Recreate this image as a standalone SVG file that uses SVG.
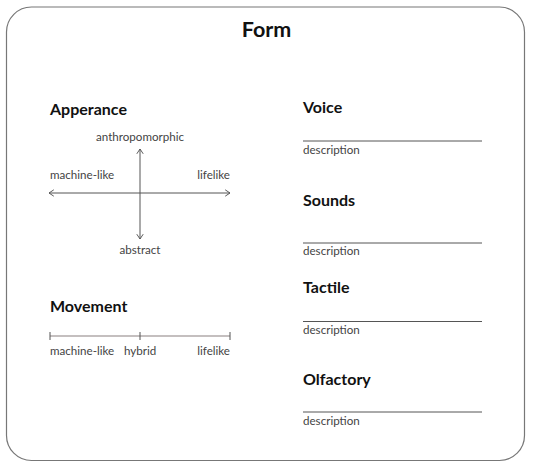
<svg xmlns="http://www.w3.org/2000/svg" width="533" height="468" viewBox="0 0 533 468">
<style>
.h{font-family:Lato,"Liberation Sans",sans-serif;font-weight:bold;fill:#111;font-size:16px}
.t{font-family:Lato,"Liberation Sans",sans-serif;fill:#444;font-size:11.6px}
.ln{stroke:#555;stroke-width:1;fill:none}
</style>
<defs>
<marker id="chev" viewBox="0 0 10 10" refX="9" refY="5" markerWidth="8" markerHeight="8" markerUnits="userSpaceOnUse" orient="auto-start-reverse">
<path d="M3,1 L9,5 L3,9" fill="none" stroke="#555" stroke-width="1.2"/>
</marker>
</defs>
<rect x="6.5" y="7" width="518" height="453.5" rx="25" ry="25" fill="#fff" stroke="#777" stroke-width="1.2"/>
<text x="266.5" y="37" text-anchor="middle" class="h" style="font-size:21.5px">Form</text>
<g id="appearance">
<text x="50" y="115" class="h">Apperance</text>
<text x="140" y="141" text-anchor="middle" class="t">anthropomorphic</text>
<text x="50" y="179" class="t">machine-like</text>
<text x="230" y="179" text-anchor="end" class="t">lifelike</text>
<text x="140" y="254" text-anchor="middle" class="t">abstract</text>
</g>
<g id="connectors">
<line x1="49" y1="193" x2="230" y2="193" class="ln" marker-start="url(#chev)" marker-end="url(#chev)"/>
<line x1="140" y1="149" x2="140" y2="239" class="ln" marker-start="url(#chev)" marker-end="url(#chev)"/>
</g>
<g id="movement">
<text x="50" y="312" class="h">Movement</text>
<line x1="50" y1="336" x2="230" y2="336" stroke="#8a8080" stroke-width="1.2"/>
<line x1="50" y1="332" x2="50" y2="340" class="ln"/>
<line x1="140" y1="332" x2="140" y2="340" class="ln"/>
<line x1="230" y1="332" x2="230" y2="340" class="ln"/>
<text x="50" y="355" class="t">machine-like</text>
<text x="124" y="355" class="t">hybrid</text>
<text x="230" y="355" text-anchor="end" class="t">lifelike</text>
</g>
<g id="voice">
<text x="303" y="113" class="h">Voice</text>
<line x1="303" y1="141" x2="482" y2="141" class="ln"/>
<text x="303" y="154" class="t">description</text>
</g>
<g id="sounds">
<text x="303" y="206" class="h">Sounds</text>
<line x1="303" y1="243" x2="482" y2="243" class="ln"/>
<text x="303" y="255" class="t">description</text>
</g>
<g id="tactile">
<text x="303" y="293" class="h">Tactile</text>
<line x1="303" y1="321.5" x2="482" y2="321.5" class="ln"/>
<text x="303" y="334" class="t">description</text>
</g>
<g id="olfactory">
<text x="303" y="385" class="h">Olfactory</text>
<line x1="303" y1="412" x2="482" y2="412" class="ln"/>
<text x="303" y="425" class="t">description</text>
</g>
</svg>
